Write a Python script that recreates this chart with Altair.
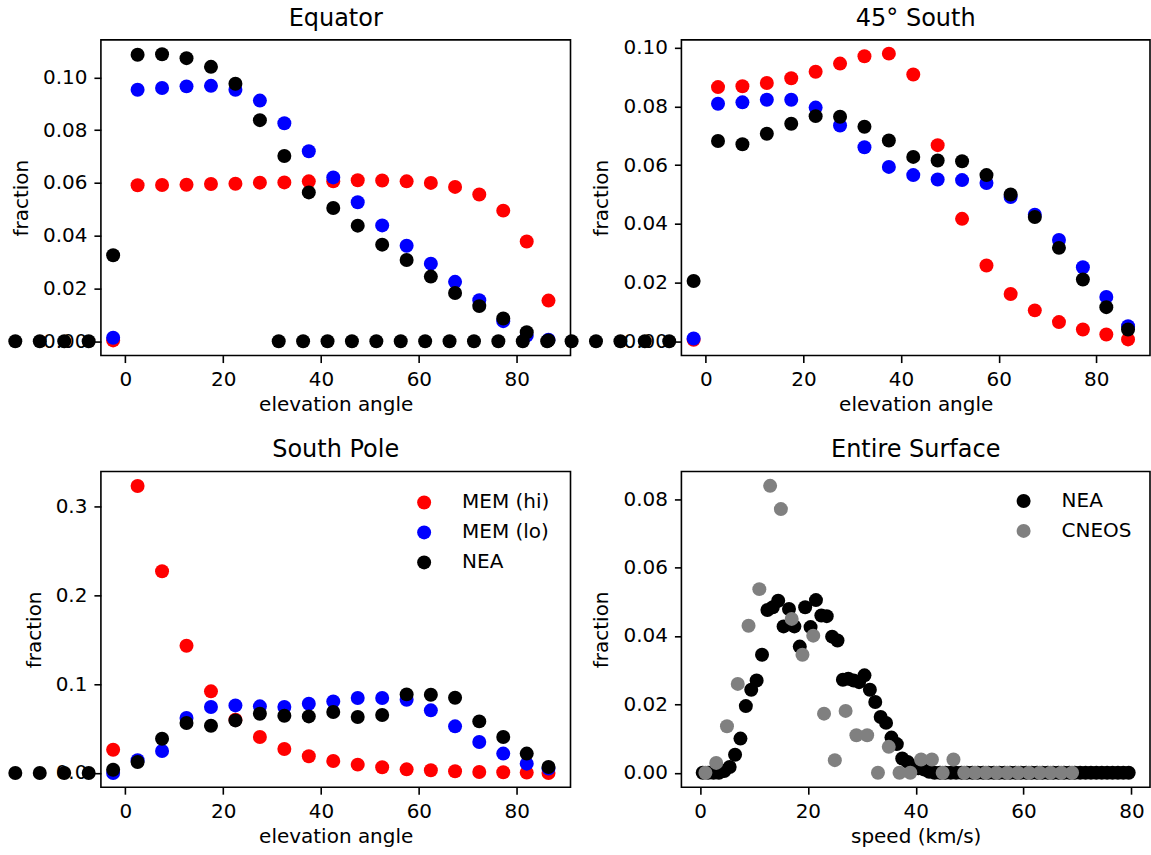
import altair as alt
import pandas as pd

# ---------------- data ----------------
ELEV_X = [-2.5, 2.5, 7.5, 12.5, 17.5, 22.5, 27.5, 32.5, 37.5, 42.5,
          47.5, 52.5, 57.5, 62.45, 67.4, 72.35, 77.25, 82.05, 86.5]

EQ_HI = [0.0003, 0.0591, 0.0592, 0.0593, 0.0596, 0.0597, 0.0601, 0.0602, 0.0606, 0.0606,
         0.0610, 0.0609, 0.0606, 0.0600, 0.0585, 0.0556, 0.0495, 0.0378, 0.0154]
EQ_LO = [0.0013, 0.0953, 0.0960, 0.0966, 0.0968, 0.0953, 0.0912, 0.0826, 0.0720, 0.0621,
         0.0527, 0.0439, 0.0362, 0.0294, 0.0225, 0.0155, 0.0076, 0.0021, 0.0006]
EQ_NEA = [0.0326, 0.1086, 0.1088, 0.1073, 0.1040, 0.0976, 0.0838, 0.0702, 0.0564, 0.0505,
          0.0438, 0.0366, 0.0308, 0.0245, 0.0183, 0.0133, 0.0086, 0.0034, 0.0003]

S45_HI = [0.0005, 0.0866, 0.0869, 0.0880, 0.0896, 0.0918, 0.0946, 0.0971, 0.0980, 0.0909,
          0.0668, 0.0417, 0.0258, 0.0161, 0.0105, 0.0065, 0.0040, 0.0023, 0.0006]
S45_LO = [0.0009, 0.0809, 0.0814, 0.0823, 0.0823, 0.0796, 0.0735, 0.0661, 0.0594, 0.0566,
          0.0551, 0.0549, 0.0539, 0.0491, 0.0431, 0.0345, 0.0252, 0.0151, 0.0051]
S45_NEA = [0.0205, 0.0682, 0.0671, 0.0707, 0.0741, 0.0767, 0.0765, 0.0731, 0.0684, 0.0628,
           0.0616, 0.0613, 0.0566, 0.0500, 0.0423, 0.0318, 0.0210, 0.0116, 0.0040]

SP_HI = [0.0262, 0.3232, 0.2272, 0.1433, 0.0919, 0.0600, 0.0405, 0.0270, 0.0188, 0.0135,
         0.0094, 0.0064, 0.0041, 0.0030, 0.0019, 0.0011, 0.0008, 0.0004, 0.0000]
SP_LO = [0.0000, 0.0143, 0.0248, 0.0619, 0.0743, 0.0761, 0.0750, 0.0743, 0.0780, 0.0806,
         0.0844, 0.0844, 0.0825, 0.0705, 0.0525, 0.0349, 0.0218, 0.0105, 0.0049]
SP_NEA = [0.0037, 0.0124, 0.0386, 0.0562, 0.0532, 0.0592, 0.0667, 0.0645, 0.0637, 0.0686,
          0.0630, 0.0653, 0.0885, 0.0881, 0.0847, 0.0581, 0.0405, 0.0218, 0.0068]

# below-horizon NEA bins (zero fraction), drawn unclipped as in the original
EQ_BELOW_X = [-22.5, -17.5, -12.5, -7.5]
EQ_BELOW_Y = [0.0, 0.0, 0.0, 0.0]
SP_BELOW_X = [-22.5, -17.5, -12.5, -7.5]
SP_BELOW_Y = [0.0, 0.0, 0.0, 0.0]
S45_BELOW_X = [-87.5, -82.5, -77.5, -72.5, -67.5, -62.5, -57.5, -52.5, -47.5,
               -42.5, -37.5, -32.5, -27.5, -22.5, -17.5, -12.5, -7.5]
S45_BELOW_Y = [0.0, 0.0, 0.0, 0.0, 0.0, 0.0, 0.0, 0.0, 0.0,
               0.0, 0.0, 0.0, 0.0, 0.0, 0.0, 0.0, 0.0]

SPEED_NEA_X = [0.5, 1.5, 2.5, 3.5, 4.5, 5.5, 6.5, 7.5, 8.5, 9.5,
               10.5, 11.5, 12.5, 13.5, 14.5, 15.5, 16.5, 17.5, 18.5, 19.5,
               20.5, 21.5, 22.5, 23.5, 24.5, 25.5, 26.5, 27.5, 28.5, 29.5,
               30.5, 31.5, 32.5, 33.5, 34.5, 35.5, 36.5, 37.5, 38.5, 39.5,
               40.5, 41.5, 42.5, 43.5, 44.5, 45.5, 46.5, 47.5, 48.5, 49.5,
               50.5, 51.5, 52.5, 53.5, 54.5, 55.5, 56.5, 57.5, 58.5, 59.5,
               60.5, 61.5, 62.5, 63.5, 64.5, 65.5, 66.5, 67.5, 68.5, 69.5,
               70.5, 71.5, 72.5, 73.5, 74.5, 75.5, 76.5, 77.5, 78.5, 79.5]
SPEED_NEA_Y = [0.0, 0.0, 0.0, 0.0, 0.0005, 0.0017, 0.0053, 0.0100, 0.0195, 0.0243,
               0.0270, 0.0345, 0.0476, 0.0484, 0.0503, 0.0428, 0.0479, 0.0428, 0.0369, 0.0484,
               0.0426, 0.0505, 0.0460, 0.0458, 0.0398, 0.0387, 0.0272, 0.0275, 0.0270, 0.0265,
               0.0285, 0.0243, 0.0207, 0.0163, 0.0146, 0.0103, 0.0084, 0.0042, 0.0032, 0.0017,
               0.0013, 0.0010, 0.0003, 0.0, 0.0, 0.0, 0.0, 0.0, 0.0, 0.0,
               0.0, 0.0, 0.0, 0.0, 0.0, 0.0, 0.0, 0.0, 0.0, 0.0,
               0.0, 0.0, 0.0, 0.0, 0.0, 0.0, 0.0, 0.0, 0.0, 0.0,
               0.0, 0.0, 0.0, 0.0, 0.0, 0.0, 0.0, 0.0, 0.0, 0.0]

SPEED_CNEOS_X = [1, 3, 5, 7, 9, 11, 13, 15, 17, 19, 21, 23, 25, 27, 29, 31, 33, 35,
                 37, 39, 41, 43, 45, 47, 49, 51, 53, 55, 57, 59, 61, 63, 65, 67, 69]
SPEED_CNEOS_Y = [0.0, 0.0029, 0.0136, 0.0260, 0.0430, 0.0537, 0.0839, 0.0771, 0.0450,
                 0.0345, 0.0401, 0.0173, 0.0037, 0.0181, 0.0110, 0.0110, 0.0, 0.0076,
                 0.0, 0.0, 0.0039, 0.0039, 0.0, 0.0039, 0.0, 0.0, 0.0, 0.0, 0.0,
                 0.0, 0.0, 0.0, 0.0, 0.0, 0.0]

SERIES = ["MEM (hi)", "MEM (lo)", "NEA"]
SERIES_COLORS = ["#ff0000", "#0000ff", "#000000"]
SPEED_SERIES = ["NEA", "CNEOS"]
SPEED_COLORS = ["#000000", "#808080"]

X_TICKS = [0, 20, 40, 60, 80]
Y_TICKS_SMALL = [0.0, 0.02, 0.04, 0.06, 0.08, 0.10]
Y_TICKS_POLE = [0.0, 0.1, 0.2, 0.3]
Y_TICKS_SPEED = [0.0, 0.02, 0.04, 0.06, 0.08]


def elev_frame(hi, lo, nea, below_x, below_y):
    rows = []
    for name, vals in zip(SERIES, [hi, lo, nea]):
        for x, y in zip(ELEV_X, vals):
            rows.append({"x": x, "y": y, "series": name})
    for x, y in zip(below_x, below_y):
        rows.append({"x": x, "y": y, "series": "NEA"})
    df = pd.DataFrame(rows)
    df["i"] = range(len(df))
    return df


def speed_frame():
    rows = []
    for x, y in zip(SPEED_NEA_X, SPEED_NEA_Y):
        rows.append({"x": x, "y": y, "series": "NEA"})
    for x, y in zip(SPEED_CNEOS_X, SPEED_CNEOS_Y):
        rows.append({"x": x, "y": y, "series": "CNEOS"})
    df = pd.DataFrame(rows)
    df["i"] = range(len(df))
    return df


def panel(df, title, width, xdom, ydom, yticks, yfmt, xtitle, domain, colors,
          legend, title_offset=9):
    return alt.Chart(df).mark_circle(size=196, opacity=1).encode(
        x=alt.X("x:Q", title=xtitle,
                scale=alt.Scale(domain=xdom, nice=False, zero=False),
                axis=alt.Axis(values=X_TICKS, format="d")),
        y=alt.Y("y:Q", title="fraction",
                scale=alt.Scale(domain=ydom, nice=False, zero=False),
                axis=alt.Axis(values=yticks, format=yfmt)),
        color=alt.Color("series:N",
                        scale=alt.Scale(domain=domain, range=colors),
                        legend=legend),
        order=alt.Order("i:Q"),
    ).properties(width=width, height=316,
                 title=alt.TitleParams(title, offset=title_offset))


eq = panel(elev_frame(EQ_HI, EQ_LO, EQ_NEA, EQ_BELOW_X, EQ_BELOW_Y), "Equator", 470,
           [-5, 91], [-0.00544, 0.11424], Y_TICKS_SMALL, ".2f", "elevation angle",
           SERIES, SERIES_COLORS, None)
s45 = panel(elev_frame(S45_HI, S45_LO, S45_NEA, S45_BELOW_X, S45_BELOW_Y), "45° South", 469,
            [-5, 91], [-0.0049, 0.1027], Y_TICKS_SMALL, ".2f", "elevation angle",
            SERIES, SERIES_COLORS, None, title_offset=7)
sp = panel(elev_frame(SP_HI, SP_LO, SP_NEA, SP_BELOW_X, SP_BELOW_Y), "South Pole", 470,
           [-5, 91], [-0.0160, 0.3395], Y_TICKS_POLE, ".1f", "elevation angle",
           SERIES, SERIES_COLORS,
           alt.Legend(title=None, orient="none", legendX=313.5, legendY=21))
es = panel(speed_frame(), "Entire Surface", 469,
           [-3.45, 83.45], [-0.0042, 0.0881], Y_TICKS_SPEED, ".2f", "speed (km/s)",
           SPEED_SERIES, SPEED_COLORS,
           alt.Legend(title=None, orient="none", legendX=332.5, legendY=19.5))

chart = alt.concat(
    eq, s45, sp, es, columns=2,
    spacing={"row": 116, "column": 111}, bounds="flush"
).resolve_scale(
    x="independent", y="independent", color="independent"
).properties(
    padding={"left": 7, "top": 5.5, "right": 0, "bottom": 5}
).configure_view(
    stroke="black", strokeWidth=1.6
).configure_axis(
    domain=False, grid=False, tickColor="black", tickWidth=1.6, tickSize=7,
    labelPadding=7, labelFont="DejaVu Sans", labelFontSize=20, labelColor="black",
    titleFont="DejaVu Sans", titleFontSize=20, titleFontWeight="normal",
    titleColor="black", labelFlush=False
).configure_axisX(
    titlePadding=5
).configure_axisY(
    titlePadding=11
).configure_title(
    font="DejaVu Sans", fontSize=24, fontWeight="normal", color="black",
    baseline="alphabetic", frame="group", anchor="middle"
).configure_legend(
    labelFont="DejaVu Sans", labelFontSize=20, labelColor="black",
    symbolSize=196, symbolType="circle", symbolStrokeWidth=0, symbolOpacity=1,
    rowPadding=10, labelOffset=28, padding=0
)

chart.save("out.html", embed_options={"renderer": "svg", "actions": False})
